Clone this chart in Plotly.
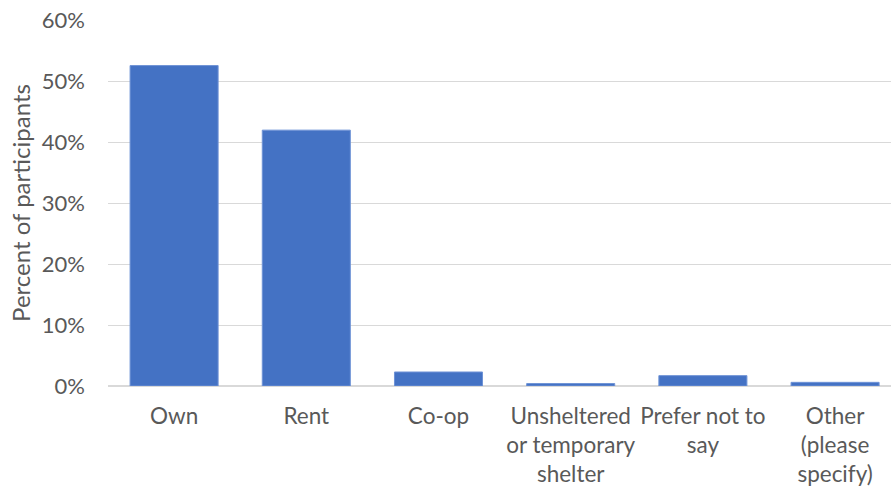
import plotly.graph_objects as go

categories = ["Own", "Rent", "Co-op", "Unsheltered<br>or temporary<br>shelter",
              "Prefer not to<br>say", "Other<br>(please<br>specify)"]
values = [0.526, 0.420, 0.023, 0.004, 0.017, 0.006]
tick_vals = [0, 0.1, 0.2, 0.3, 0.4, 0.5, 0.6]
tick_text = ["0%", "10%", "20%", "30%", "40%", "50%", "60%"]

font_family = "Lato, 'Open Sans', sans-serif"
text_color = "#595959"

fig = go.Figure(go.Bar(
    x=categories, y=values,
    marker=dict(color="#4472C4", line=dict(color="#6f93d6", width=1)),
    width=0.666,
))

fig.update_layout(
    width=891, height=489,
    margin=dict(l=108, r=0, t=20, b=103),
    plot_bgcolor="white", paper_bgcolor="white",
    font=dict(family=font_family, size=22, color=text_color),
    showlegend=False,
)
# the reference plot area runs past the right edge of the picture
fig.update_xaxes(
    range=[-0.5, 5.423],
    showgrid=False, showline=False, ticks="", tickfont=dict(size=22.5, color=text_color),
    tickangle=0, automargin=False, ticklabelstandoff=14,
)
fig.update_yaxes(
    range=[0, 0.6008], tickvals=tick_vals, ticktext=tick_text,
    showgrid=True, gridcolor="#d9d9d9", gridwidth=1.3,
    zeroline=True, zerolinecolor="#d9d9d9", zerolinewidth=1.5,
    showline=False, ticks="", ticklabelstandoff=22,
    tickfont=dict(size=22, color=text_color),
    title=dict(text="Percent of participants", font=dict(size=24, color=text_color), standoff=4),
    automargin=False,
)

fig.write_html("out.html", config={"displayModeBar": False},
               post_script="document.body.style.margin='0px';document.body.style.overflow='hidden';")
